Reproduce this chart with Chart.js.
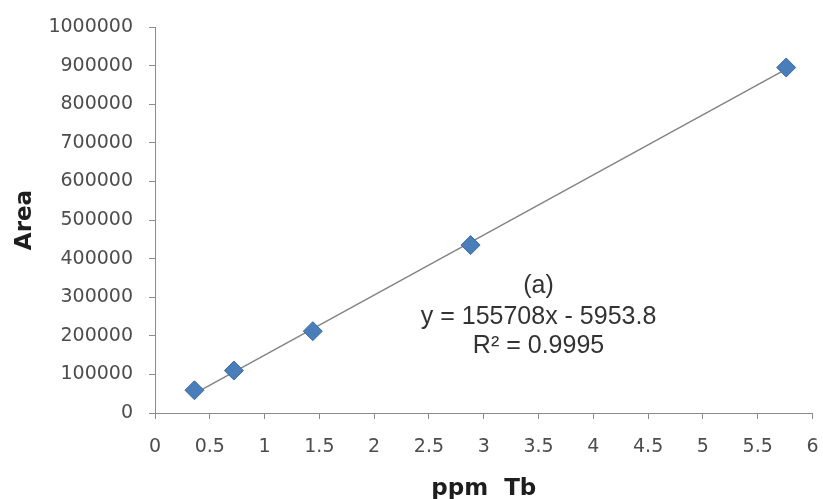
<!DOCTYPE html>
<html>
<head>
<meta charset="utf-8">
<script src="https://cdn.jsdelivr.net/npm/chart.js@4/dist/chart.umd.min.js"></script>
<style>
  html, body { margin: 0; padding: 0; background: #ffffff; }
  #wrap { width: 823px; height: 499px; }
</style>
</head>
<body>
<div id="wrap"><canvas id="chart" width="823" height="499"></canvas></div>
<script>
// Data
const PPM_TB = [0.36, 0.72, 1.44, 2.88, 5.76];
const AREA = [59000, 110000, 212000, 435000, 895000];
const SLOPE = 155708;
const INTERCEPT = -5953.8;
const X_TICKS = [0, 0.5, 1, 1.5, 2, 2.5, 3, 3.5, 4, 4.5, 5, 5.5, 6];
const Y_TICKS = [0, 100000, 200000, 300000, 400000, 500000, 600000, 700000, 800000, 900000, 1000000];
const NOTES = ['(a)', 'y = 155708x - 5953.8', 'R² = 0.9995'];

// Colors
const MARKER_FILL = '#4a7ebb';
const MARKER_EDGE = '#3c6aa6';
const TREND_COLOR = '#848484';
const AXIS_COLOR = '#8a8a8a';
const TICK_TEXT = '#4d4d4d';
const TITLE_TEXT = '#1e1e1e';
const NOTE_TEXT = '#333333';

const points = PPM_TB.map((x, i) => ({ x: x, y: AREA[i] }));
const xFirst = Math.min(...PPM_TB);
const xLast = Math.max(...PPM_TB);
const trend = [xFirst, xLast].map(x => ({ x: x, y: SLOPE * x + INTERCEPT }));

// notes drawn in data space
const notePlugin = {
    id: 'notes',
    afterDatasetsDraw(chart) {
        const { ctx, scales } = chart;
        const spots = [[3.5, 328000], [3.5, 249000], [3.5, 173000]];
        ctx.save();
        ctx.fillStyle = NOTE_TEXT;
        ctx.font = '25px "Liberation Sans", Arial, sans-serif';
        ctx.textAlign = 'center';
        ctx.textBaseline = 'middle';
        NOTES.forEach((txt, i) => {
            ctx.fillText(txt, scales.x.getPixelForValue(spots[i][0]), scales.y.getPixelForValue(spots[i][1]));
        });
        ctx.restore();
    }
};

const tickFont = { family: '"DejaVu Sans", sans-serif', size: 19 };
const titleFont = { family: '"DejaVu Sans", sans-serif', size: 23, weight: 'bold', lineHeight: 1 };

new Chart(document.getElementById('chart'), {
    type: 'scatter',
    data: {
        datasets: [{
            label: 'Area',
            data: points,
            pointStyle: 'rectRot',
            pointRadius: 9.5,
            pointHoverRadius: 9.5,
            backgroundColor: MARKER_FILL,
            borderColor: MARKER_EDGE,
            borderWidth: 1,
            order: 1
        }, {
            type: 'line',
            label: 'Linear',
            data: trend,
            borderColor: TREND_COLOR,
            borderWidth: 1.5,
            pointRadius: 0,
            fill: false,
            order: 2
        }]
    },
    options: {
        responsive: false,
        animation: false,
        layout: { padding: { top: 27, right: 10, bottom: 0, left: 0 } },
        plugins: {
            legend: { display: false },
            tooltip: { enabled: false }
        },
        scales: {
            x: {
                type: 'linear',
                min: 0,
                max: 6,
                afterFit: (scale) => {
                    scale.height = 86;
                    scale.paddingLeft = 0;
                    scale.paddingRight = 0;
                },
                afterBuildTicks: (scale) => { scale.ticks = X_TICKS.map(v => ({ value: v })); },
                border: { color: AXIS_COLOR, width: 1 },
                grid: { drawOnChartArea: false, drawTicks: true, tickLength: 6, color: AXIS_COLOR },
                ticks: { color: TICK_TEXT, font: tickFont, padding: 17, callback: v => String(v) },
                title: { display: true, text: 'ppm  Tb', color: TITLE_TEXT, font: titleFont, padding: { top: 0, bottom: -2 } }
            },
            y: {
                type: 'linear',
                min: 0,
                max: 1000000,
                afterFit: (scale) => {
                    scale.width = 155;
                    scale.paddingTop = 0;
                    scale.paddingBottom = 0;
                },
                afterBuildTicks: (scale) => { scale.ticks = Y_TICKS.map(v => ({ value: v })); },
                border: { color: AXIS_COLOR, width: 1 },
                grid: { drawOnChartArea: false, drawTicks: true, tickLength: 6, color: AXIS_COLOR },
                ticks: { color: TICK_TEXT, font: tickFont, padding: 16, callback: v => String(v) },
                title: { display: true, text: 'Area', color: TITLE_TEXT, font: titleFont, padding: { top: 14, bottom: 0 } }
            }
        }
    },
    plugins: [notePlugin]
});
</script>
</body>
</html>
